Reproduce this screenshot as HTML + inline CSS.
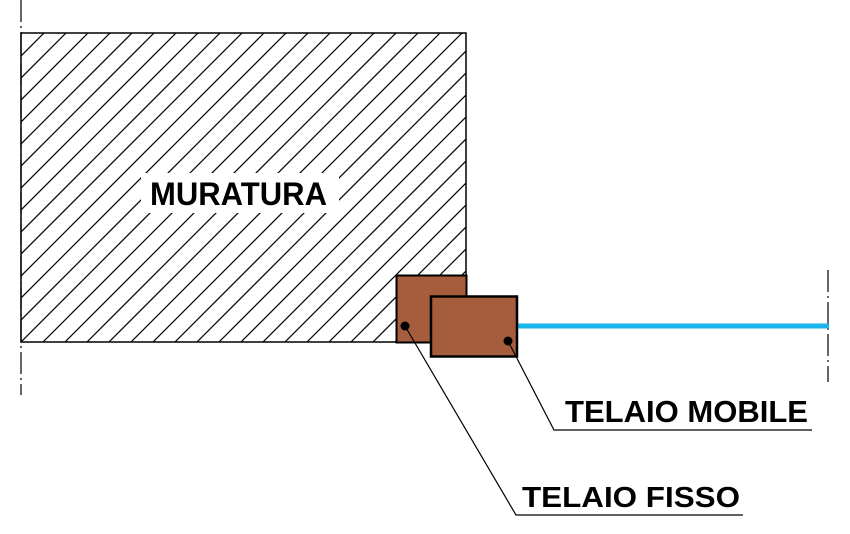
<!DOCTYPE html>
<html><head><style>html,body{margin:0;padding:0;background:#fff;}svg{display:block;}</style></head>
<body>
<svg width="850" height="534" viewBox="0 0 850 534" xmlns="http://www.w3.org/2000/svg">
<defs><clipPath id="c"><rect x="21" y="33" width="445" height="309"/></clipPath></defs>
<g clip-path="url(#c)" stroke="#000" stroke-width="1.2">
<line x1="0" y1="363" x2="340" y2="23"/><line x1="-22" y1="363" x2="318" y2="23"/><line x1="-44" y1="363" x2="296" y2="23"/>
<line x1="22" y1="363" x2="362" y2="23"/><line x1="44" y1="363" x2="384" y2="23"/><line x1="66" y1="363" x2="406" y2="23"/>
<line x1="88" y1="363" x2="428" y2="23"/><line x1="110" y1="363" x2="450" y2="23"/><line x1="132" y1="363" x2="472" y2="23"/>
<line x1="154" y1="363" x2="494" y2="23"/><line x1="176" y1="363" x2="516" y2="23"/><line x1="198" y1="363" x2="538" y2="23"/>
<line x1="220" y1="363" x2="560" y2="23"/><line x1="242" y1="363" x2="582" y2="23"/><line x1="264" y1="363" x2="604" y2="23"/>
<line x1="286" y1="363" x2="626" y2="23"/><line x1="308" y1="363" x2="648" y2="23"/><line x1="330" y1="363" x2="670" y2="23"/>
<line x1="352" y1="363" x2="692" y2="23"/><line x1="374" y1="363" x2="714" y2="23"/><line x1="396" y1="363" x2="736" y2="23"/>
<line x1="418" y1="363" x2="758" y2="23"/><line x1="440" y1="363" x2="780" y2="23"/>
<line x1="-66" y1="363" x2="274" y2="23"/><line x1="-88" y1="363" x2="252" y2="23"/><line x1="-110" y1="363" x2="230" y2="23"/>
<line x1="-132" y1="363" x2="208" y2="23"/><line x1="-154" y1="363" x2="186" y2="23"/><line x1="-176" y1="363" x2="164" y2="23"/>
<line x1="-198" y1="363" x2="142" y2="23"/><line x1="-220" y1="363" x2="120" y2="23"/><line x1="-242" y1="363" x2="98" y2="23"/>
<line x1="-264" y1="363" x2="76" y2="23"/><line x1="-286" y1="363" x2="54" y2="23"/><line x1="-308" y1="363" x2="32" y2="23"/>
</g>
<rect x="21" y="33" width="445" height="309" fill="none" stroke="#000" stroke-width="1.5"/>
<line x1="21" y1="0" x2="21" y2="395" stroke="#000" stroke-width="1.2" stroke-dasharray="22,4,2,4"/>
<line x1="828" y1="270" x2="828" y2="382" stroke="#000" stroke-width="1.2" stroke-dasharray="22,4,2,4"/>
<rect x="141" y="173" width="198" height="40" fill="#fff"/>
<text x="150" y="205" font-family="Liberation Sans, sans-serif" font-weight="bold" font-size="32" textLength="177" lengthAdjust="spacingAndGlyphs" fill="#000">MURATURA</text>
<line x1="517" y1="326" x2="829" y2="326" stroke="#1ab4ea" stroke-width="5"/>
<rect x="396.5" y="275.5" width="70" height="67" fill="#a65d3d" stroke="#000" stroke-width="2"/>
<rect x="431" y="296.5" width="86" height="60" fill="#a65d3d" stroke="#000" stroke-width="2.5"/>
<circle cx="405" cy="326" r="4.5" fill="#000"/>
<circle cx="508" cy="341" r="4.5" fill="#000"/>
<polyline points="405,326 516,515 743,515" fill="none" stroke="#000" stroke-width="1.2"/>
<polyline points="508,341 554,430 812,430" fill="none" stroke="#000" stroke-width="1.2"/>
<text x="565" y="422" font-family="Liberation Sans, sans-serif" font-weight="bold" font-size="31" textLength="243" lengthAdjust="spacingAndGlyphs" fill="#000">TELAIO MOBILE</text>
<text x="522" y="507" font-family="Liberation Sans, sans-serif" font-weight="bold" font-size="29" textLength="218" lengthAdjust="spacingAndGlyphs" fill="#000">TELAIO FISSO</text>
</svg>
</body></html>
